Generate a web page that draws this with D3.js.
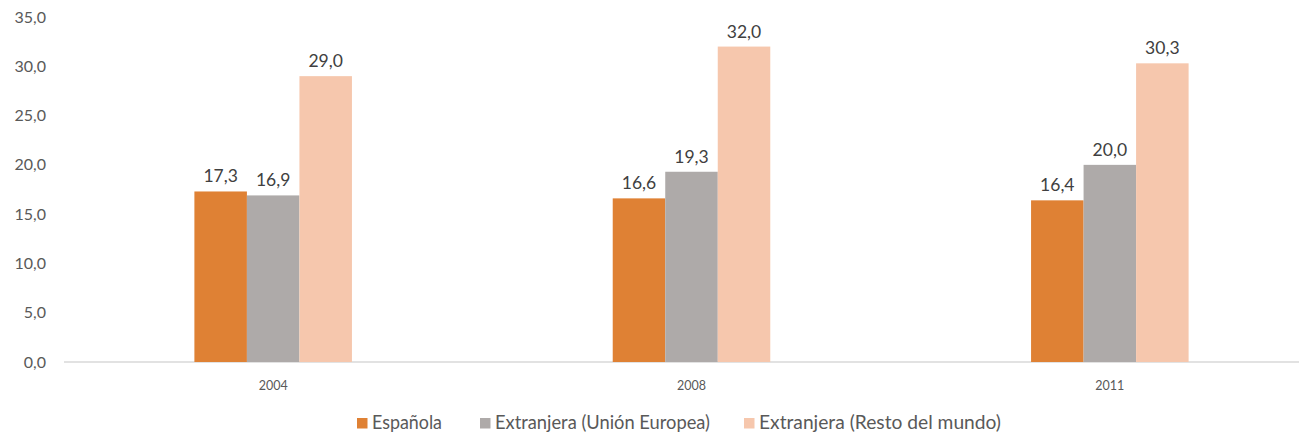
<!DOCTYPE html>
<html>
<head>
<meta charset="utf-8">
<script src="https://cdn.jsdelivr.net/npm/d3@7"></script>
<style>
  body { margin: 0; background: #fff; }
  svg { display: block; font-family: Lato, "Open Sans", sans-serif; }
</style>
</head>
<body>
<div id="chart"></div>
<script>
const years = ["2004", "2008", "2011"];
const series = ["Española", "Extranjera (Unión Europea)", "Extranjera (Resto del mundo)"];
const espanola = [17.3, 16.6, 16.4];
const extranjeraUE = [16.9, 19.3, 20.0];
const extranjeraResto = [29.0, 32.0, 30.3];
const yTicks = [0, 5, 10, 15, 20, 25, 30, 35];
const colors = ["#df8134", "#aeaaa9", "#f6c7ad"];

const width = 1299, height = 434;
const margin = { top: 17, left: 64, bottom: 72, right: -20 };

const svg = d3.select("#chart").append("svg")
  .attr("width", width)
  .attr("height", height);

const fmt = v => v.toFixed(1).replace(".", ",");

const y = d3.scaleLinear().domain([0, 35]).range([height - margin.bottom, margin.top]);
const x = d3.scaleBand().domain(years).range([margin.left, width - margin.right]);
const inner = d3.scaleBand().domain(series)
  .range([x.bandwidth() / 2 - x.bandwidth() * 0.1883, x.bandwidth() / 2 + x.bandwidth() * 0.1883]);

const rows = years.map((yr, i) => ({
  year: yr,
  values: [espanola[i], extranjeraUE[i], extranjeraResto[i]].map((v, j) => ({ key: series[j], value: v, color: colors[j] }))
}));

// baseline
svg.append("line")
  .attr("x1", margin.left).attr("x2", width)
  .attr("y1", y(0)).attr("y2", y(0))
  .attr("stroke", "#d9d9d9").attr("stroke-width", 1.5);

// y labels
svg.append("g").selectAll("text").data(yTicks).enter().append("text")
  .attr("x", 46).attr("y", d => y(d)).attr("dy", "0.35em")
  .attr("text-anchor", "end").attr("fill", "#595959").attr("font-size", 16)
  .text(fmt);

const groups = svg.selectAll(".grp").data(rows).enter().append("g")
  .attr("class", "grp")
  .attr("transform", d => `translate(${x(d.year)},0)`);

groups.selectAll("rect").data(d => d.values).enter().append("rect")
  .attr("x", d => inner(d.key))
  .attr("width", inner.bandwidth())
  .attr("y", d => y(d.value))
  .attr("height", d => y(0) - y(d.value))
  .attr("fill", d => d.color);

groups.selectAll("text.lbl").data(d => d.values).enter().append("text")
  .attr("class", "lbl")
  .attr("x", d => inner(d.key) + inner.bandwidth() / 2)
  .attr("y", d => y(d.value) - 9)
  .attr("text-anchor", "middle").attr("fill", "#404040").attr("font-size", 17.5)
  .text(d => fmt(d.value));

// x labels
svg.append("g").selectAll("text").data(years).enter().append("text")
  .attr("x", d => x(d) + x.bandwidth() / 2).attr("y", 390)
  .attr("text-anchor", "middle").attr("fill", "#595959").attr("font-size", 12.5)
  .text(d => d);

// legend
const legendX = [357, 480, 744];
const legendW = [70, 215, 242];
const legend = svg.append("g").selectAll("g").data(series).enter().append("g")
  .attr("transform", (d, i) => `translate(${legendX[i]},418)`);
legend.append("rect").attr("width", 10.5).attr("height", 10.5).attr("fill", (d, i) => colors[i]);
legend.append("text").attr("x", 15).attr("y", 10.5)
  .attr("fill", "#595959").attr("font-size", 18.5)
  .attr("textLength", (d, i) => legendW[i])
  .attr("lengthAdjust", "spacingAndGlyphs")
  .text(d => d);
</script>
</body>
</html>
